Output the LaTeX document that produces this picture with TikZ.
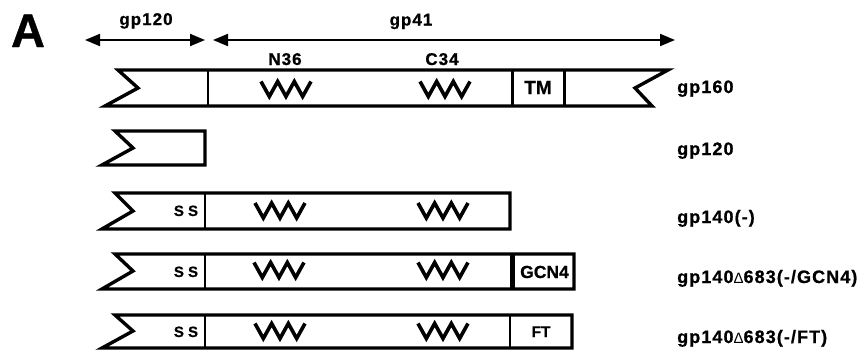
\documentclass[tikz,border=0pt]{standalone}
\usepackage{fontspec}
\setmainfont{Liberation Sans}[BoldFeatures={FakeBold=0.8}]
\usetikzlibrary{arrows.meta}
\newfontfamily\lblfont{Liberation Sans}[LetterSpace=6, BoldFeatures={FakeBold=0.8}]
\newcommand{\dlt}{{\mdseries\fontsize{15}{16}\selectfont Δ}}
\tikzset{
  frame/.style={line width=3.4pt, line join=miter, line cap=butt},
  divider/.style={line width=2.8pt},
  thickdiv/.style={line width=5pt},
  zzline/.style={line width=3.6pt, line join=miter},
  span/.style={line width=2pt, {Triangle[length=15pt,width=12pt]}-{Triangle[length=15pt,width=12pt]}},
  rlabel/.style={anchor=base west, inner sep=0pt, font=\lblfont\bfseries\fontsize{18}{19}\selectfont},
  toplabel/.style={anchor=base, inner sep=0pt, font=\lblfont\bfseries\fontsize{17}{18}\selectfont},
  domlabel/.style={anchor=base, inner sep=0pt, font=\bfseries\fontsize{19}{20}\selectfont},
  sslabel/.style={anchor=base, inner sep=0pt, font=\bfseries\fontsize{15}{16}\selectfont},
  zigzag/.pic={
    \draw[zzline] (-25,-7.5) -- ++(8.33,15) -- ++(8.33,-15) -- ++(8.33,15)
      -- ++(8.33,-15) -- ++(8.33,15) -- ++(8.33,-15);
  }
}
\begin{document}
\begin{tikzpicture}[x=1pt,y=-1pt]
\useasboundingbox (0,0) rectangle (867,351);

% panel letter
\node[inner sep=0pt, anchor=base, font=\bfseries\fontsize{47}{50}\selectfont] (panel) at (28,47) {A};

% span arrows
\coordinate (a120l) at (85,40);
\coordinate (a120r) at (205,40);
\coordinate (a41l) at (213,40);
\coordinate (a41r) at (675,40);
\draw[span] (a120l) -- (a120r);
\draw[span] (a41l) -- (a41r);
\node[toplabel] (t120) at (146,25) {gp120};
\node[toplabel] (t41) at (411,25.5) {gp41};
\node[toplabel] (tN36) at (285,65) {N36};
\node[toplabel] (tC34) at (442,65) {C34};

% gp160
\draw[frame] (118,70) -- (668,70) -- (635,88) -- (652,106) -- (105,106) -- (138,88) -- cycle;
\draw[divider] (208,70) -- (208,106);
\draw[divider] (512.5,70) -- (512.5,106);
\draw[divider] (564.5,70) -- (564.5,106);
\pic at (286,89) {zigzag};
\pic at (445,89) {zigzag};
\node[domlabel] (tm) at (538,94) {TM};
\node[rlabel] (l160) at (677,93) {gp160};

% gp120
\draw[frame] (115,131) -- (205,131) -- (205,165) -- (102,165) -- (133,148) -- cycle;
\node[rlabel] (l120) at (677,155) {gp120};

% gp140(-)
\draw[frame] (115,193) -- (510,193) -- (510,229) -- (102,229) -- (133,211) -- cycle;
\draw[divider] (205,193) -- (205,229);
\node[sslabel] (ss3) at (186,216) {S S};
\pic at (280,210.5) {zigzag};
\pic at (443,210.5) {zigzag};
\node[rlabel] (l140) at (677,223) {gp140(-)};

% gp140 delta683 (-/GCN4)
\draw[frame] (115,254) -- (574,254) -- (574,289) -- (102,289) -- (133,271) -- cycle;
\draw[divider] (205,254) -- (205,289);
\draw[thickdiv] (512.5,254) -- (512.5,289);
\node[sslabel] (ss4) at (186,277) {S S};
\pic at (279,270) {zigzag};
\pic at (443,270) {zigzag};
\node[anchor=base, inner sep=0pt, font=\bfseries\fontsize{17.5}{18}\selectfont] (gcn) at (544.5,278) {GCN4};
\node[rlabel] (l683g) at (677,283) {gp140\dlt683(-/GCN4)};

% gp140 delta683 (-/FT)
\draw[frame] (115,315) -- (572,315) -- (572,348) -- (102,348) -- (133,331) -- cycle;
\draw[divider] (205,315) -- (205,348);
\draw[divider] (510,315) -- (510,348);
\node[sslabel] (ss5) at (186,337) {S S};
\pic at (280,331) {zigzag};
\pic at (443,331) {zigzag};
\node[anchor=base, inner sep=0pt, font=\bfseries\fontsize{15.5}{16}\selectfont] (ft) at (541,337) {FT};
\node[rlabel] (l683f) at (677,343) {gp140\dlt683(-/FT)};
\end{tikzpicture}
\end{document}
